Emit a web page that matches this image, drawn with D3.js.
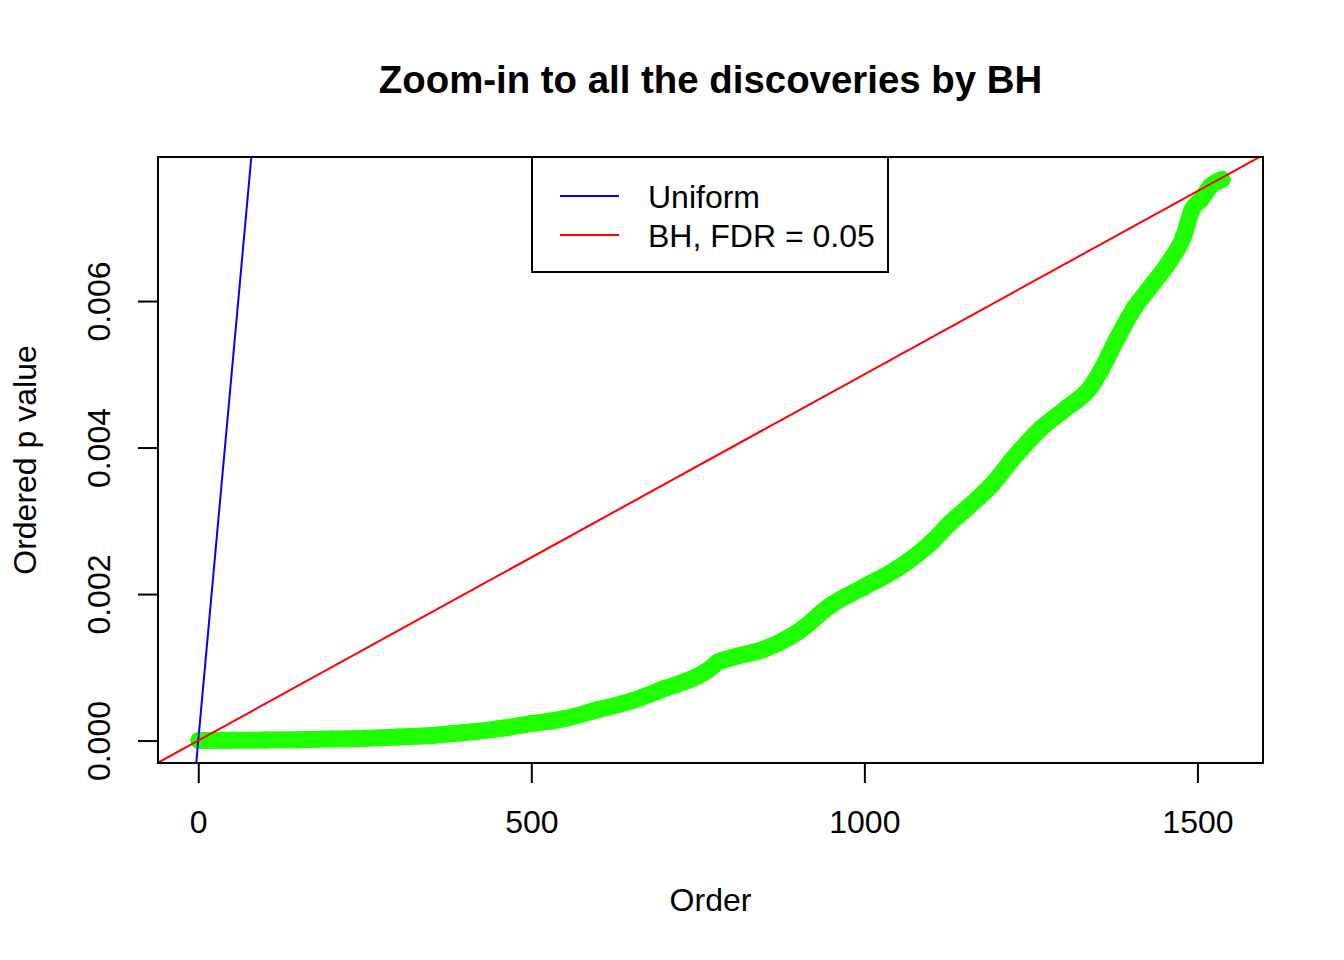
<!DOCTYPE html>
<html>
<head>
<meta charset="utf-8">
<script src="https://cdn.jsdelivr.net/npm/d3@7/dist/d3.min.js"></script>
<style>
  html, body { margin: 0; padding: 0; background: #fff; }
  svg { display: block; font-family: "Liberation Sans", Arial, Helvetica, sans-serif; }
</style>
</head>
<body>
<svg id="chart" width="1344" height="960"></svg>
<script>
// ---- data ----
const orderIdx = [1, 50, 100, 150, 200, 250, 300, 350, 400, 450, 500, 550, 600, 650, 700, 750, 765, 780, 800, 850,
                  900, 950, 1000, 1050, 1100, 1130, 1155, 1190, 1227, 1265, 1302, 1340, 1355, 1380, 1405, 1430, 1455,
                  1480, 1492, 1505, 1520, 1537];
const pValues  = [0.000000, 0.000003, 0.000006, 0.000012, 0.000020, 0.000030, 0.000050, 0.000070, 0.000110, 0.000160,
                  0.000230, 0.000300, 0.000420, 0.000540, 0.000710, 0.000880, 0.000960, 0.001070, 0.001130, 0.001250,
                  0.001480, 0.001850, 0.002100, 0.002350, 0.002700, 0.002980, 0.003180, 0.003480, 0.003890, 0.004260,
                  0.004530, 0.004830, 0.005050, 0.005500, 0.005900, 0.006200, 0.006500, 0.006900, 0.007250, 0.007380,
                  0.007570, 0.007660];
const totalTests = 10000;
const fdr = 0.05;
const xTicks = [0, 500, 1000, 1500];
const yTicks = [0, 0.002, 0.004, 0.006];
const titleText = "Zoom-in to all the discoveries by BH";
const xLabel = "Order";
const yLabel = "Ordered p value";
const legendLabels = ["Uniform", "BH, FDR = 0.05"];
const legendColors = ["#0000ff", "#ff0000"];

// ---- layout ----
const L = 158, R = 1263, T = 157, B = 763;
const xMin = 1, xMax = d3.max(orderIdx);
const yMin = d3.min(pValues), yMax = d3.max(pValues);
const xPad = (xMax - xMin) * 0.04, yPad = (yMax - yMin) * 0.04;

const x = d3.scaleLinear().domain([xMin - xPad, xMax + xPad]).range([L, R]);
const y = d3.scaleLinear().domain([yMin - yPad, yMax + yPad]).range([B, T]);

const svg = d3.select("#chart");

svg.append("defs").append("clipPath").attr("id", "plotClip")
  .append("rect").attr("x", L).attr("y", T).attr("width", R - L).attr("height", B - T);

const plot = svg.append("g").attr("clip-path", "url(#plotClip)");

// green points (thick band of overlapping points)
const pts = orderIdx.map((d, i) => [d, pValues[i]]);
const green = "#1fff00";
plot.append("path")
  .datum(pts)
  .attr("d", d3.line().x(d => x(d[0])).y(d => y(d[1])).curve(d3.curveMonotoneX))
  .attr("fill", "none")
  .attr("stroke", green)
  .attr("stroke-width", 17)
  .attr("stroke-linecap", "round")
  .attr("stroke-linejoin", "round");
plot.selectAll("circle.pt").data(pts).enter().append("circle")
  .attr("class", "pt")
  .attr("cx", d => x(d[0])).attr("cy", d => y(d[1])).attr("r", 8.5)
  .attr("fill", green);

// reference lines
const xd = x.domain();
plot.append("line")
  .attr("x1", x(xd[0])).attr("y1", y(xd[0] / totalTests))
  .attr("x2", x(xd[1])).attr("y2", y(xd[1] / totalTests))
  .attr("stroke", legendColors[0]).attr("stroke-width", 2);
plot.append("line")
  .attr("x1", x(xd[0])).attr("y1", y(fdr * xd[0] / totalTests))
  .attr("x2", x(xd[1])).attr("y2", y(fdr * xd[1] / totalTests))
  .attr("stroke", legendColors[1]).attr("stroke-width", 2);

// box
svg.append("rect").attr("x", L).attr("y", T).attr("width", R - L).attr("height", B - T)
  .attr("fill", "none").attr("stroke", "#000").attr("stroke-width", 2);

// x axis
const xAxis = svg.append("g").attr("transform", `translate(0,${B})`)
  .call(d3.axisBottom(x).tickValues(xTicks).tickSize(20).tickFormat(d3.format("d")));
xAxis.select(".domain").remove();
xAxis.selectAll(".tick line").attr("stroke", "#000").attr("stroke-width", 2);
xAxis.selectAll(".tick text").attr("y", 70).attr("dy", 0)
  .attr("font-size", 32).attr("fill", "#000")
  .attr("font-family", "'Liberation Sans', Arial, sans-serif");

// y axis
const yAxis = svg.append("g").attr("transform", `translate(${L},0)`)
  .call(d3.axisLeft(y).tickValues(yTicks).tickSize(20).tickFormat(d3.format(".3f")));
yAxis.select(".domain").remove();
yAxis.selectAll(".tick line").attr("stroke", "#000").attr("stroke-width", 2);
yAxis.selectAll(".tick text")
  .attr("x", null).attr("dy", 0)
  .attr("text-anchor", "middle")
  .attr("transform", "translate(-48,0) rotate(-90)")
  .attr("font-size", 32).attr("fill", "#000")
  .attr("font-family", "'Liberation Sans', Arial, sans-serif");

// title & labels
svg.append("text").attr("x", (L + R) / 2).attr("y", 93).attr("text-anchor", "middle")
  .attr("font-size", 38.4).attr("font-weight", "bold").text(titleText);
svg.append("text").attr("x", (L + R) / 2).attr("y", 911).attr("text-anchor", "middle")
  .attr("font-size", 32).text(xLabel);
svg.append("text").attr("transform", `translate(36,${(T + B) / 2}) rotate(-90)`)
  .attr("text-anchor", "middle").attr("font-size", 32).text(yLabel);

// legend
const lg = svg.append("g");
lg.append("rect").attr("x", 532).attr("y", T).attr("width", 888 - 532).attr("height", 272 - T)
  .attr("fill", "#fff").attr("stroke", "#000").attr("stroke-width", 2);
const lineY = [196, 235], textY = [208, 247];
legendLabels.forEach((lab, i) => {
  lg.append("line").attr("x1", 560).attr("x2", 619).attr("y1", lineY[i]).attr("y2", lineY[i])
    .attr("stroke", legendColors[i]).attr("stroke-width", 2);
  lg.append("text").attr("x", 648).attr("y", textY[i]).attr("font-size", 32).text(lab);
});
</script>
</body>
</html>
